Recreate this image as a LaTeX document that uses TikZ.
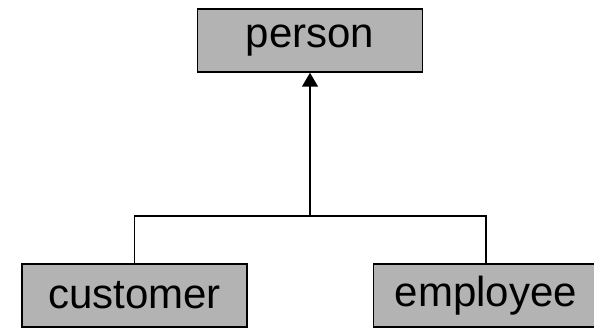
\documentclass[tikz,border=0pt]{standalone}
\usepackage{fontspec}
\setmainfont{Liberation Sans}
\usetikzlibrary{arrows.meta, positioning}
\definecolor{boxgray}{HTML}{B3B3B3}

\begin{document}
\begin{tikzpicture}[
    x=1pt, y=-1pt,
    classbox/.style={rectangle, draw=black, fill=boxgray, line width=1.5pt, minimum width=225pt, minimum height=63pt, inner sep=0pt, font=\fontsize{42}{46}\selectfont},
    arrow/.style={-{Triangle[length=14pt, width=16pt]}, line width=1.5pt},
    link/.style={line width=1.5pt}
]
\useasboundingbox (0,0) rectangle (594,328);
\clip (0,0) rectangle (594,328);

\node[classbox] (person) at (310,40.5) {person};
\node[classbox] (customer) at (134.5,295.5) {customer};
\node[classbox] (employee) at (486,295.5) {employee};

\coordinate (joint) at (310,216);

\draw[link] (customer.north) |- (joint) -| (employee.north);
\draw[arrow] (joint) -- (person.south);

\end{tikzpicture}
\end{document}
